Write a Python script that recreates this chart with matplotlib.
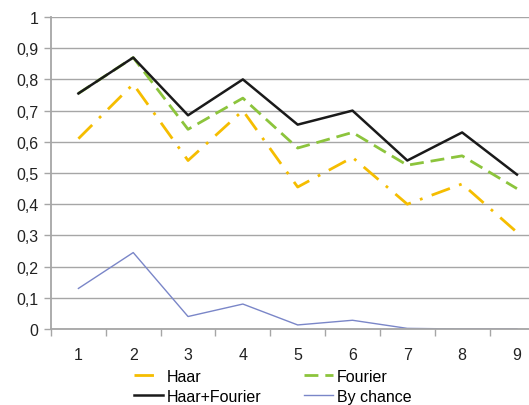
import numpy as np
import matplotlib.pyplot as plt
from matplotlib.ticker import FixedLocator, FuncFormatter

plt.rcParams['font.family'] = ['Liberation Sans', 'DejaVu Sans']

# data
categories = [1, 2, 3, 4, 5, 6, 7, 8, 9]
haar = [0.61, 0.785, 0.54, 0.70, 0.455, 0.55, 0.40, 0.465, 0.31]
fourier = [0.755, 0.87, 0.64, 0.74, 0.58, 0.63, 0.525, 0.555, 0.45]
haar_fourier = [0.755, 0.87, 0.685, 0.80, 0.655, 0.70, 0.54, 0.63, 0.495]
by_chance = [0.13, 0.245, 0.04, 0.08, 0.013, 0.028, 0.002, 0.0, 0.0]

fig = plt.figure(figsize=(5.29, 4.06), dpi=100)
ax = fig.add_axes([51/529, 76/406, 1 - 51/529, 312/406])

grid_col = "#a6a6a6"
fs = 11.5
l_haar, = ax.plot(categories, haar, color="#f5bd00", lw=2.0, dashes=(7, 3.5, 1, 3.5), label="Haar")
l_four, = ax.plot(categories, fourier, color="#8cc43c", lw=2.0, dashes=(5, 2.5), label="Fourier")
l_hf, = ax.plot(categories, haar_fourier, color="#1a1a1a", lw=1.8, label="Haar+Fourier")
l_bc, = ax.plot(categories, by_chance, color="#7a86c8", lw=1.0, label="By chance")

ax.set_ylim(0, 1)
ax.set_xlim(0.5, 9.22)
ax.set_yticks(np.arange(0, 1.01, 0.1))
ax.yaxis.set_major_formatter(FuncFormatter(lambda v, p: ("%g" % round(v, 1)).replace(".", ",")))
ax.set_xticks(categories)
ax.xaxis.set_minor_locator(FixedLocator(np.arange(0.5, 9.5, 1)))
ax.tick_params(axis="x", which="major", length=0, pad=13, labelsize=fs, colors="#222222")
ax.tick_params(axis="x", which="minor", length=5, color=grid_col, width=1)
ax.tick_params(axis="y", length=5, color=grid_col, width=1, labelsize=fs, colors="#222222", pad=4)

ax.grid(axis="y", color=grid_col, lw=1)
ax.set_axisbelow(True)
for s in ["top", "right"]:
    ax.spines[s].set_visible(False)
for s in ["left", "bottom"]:
    ax.spines[s].set_color(grid_col)
    ax.spines[s].set_linewidth(1.3)
    ax.spines[s].set_zorder(5)

# row-wise order: Haar, Fourier / Haar+Fourier, By chance
handles = [l_haar, l_hf, l_four, l_bc]
fig.legend(handles, [h.get_label() for h in handles], loc="lower left",
           bbox_to_anchor=(131/529, -0.005), ncol=2, frameon=False,
           fontsize=fs, handlelength=1.8, handletextpad=0.25, columnspacing=2.65,
           labelspacing=0.3, borderaxespad=0.0, borderpad=0.2)

plt.savefig("out.png", dpi=100)
